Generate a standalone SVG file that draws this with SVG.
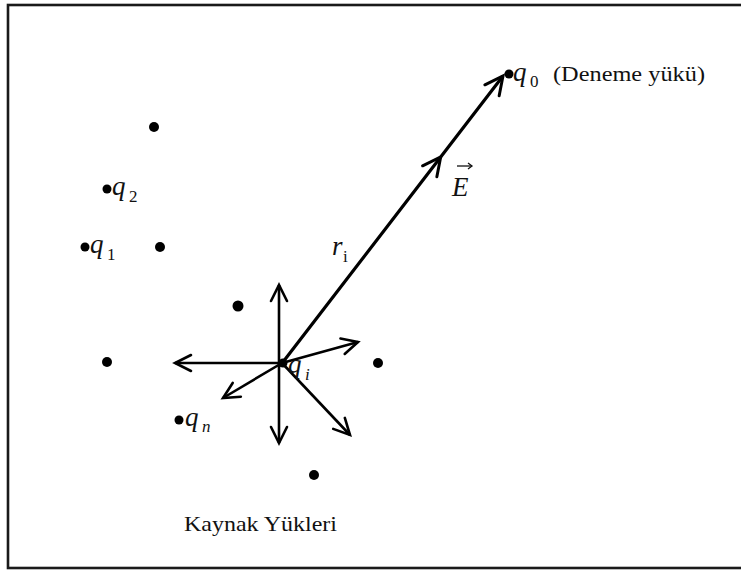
<svg xmlns="http://www.w3.org/2000/svg" width="741" height="574" viewBox="0 0 741 574">
<style>
.dot{fill:#000}
.arr{fill:none;stroke:#000;stroke-width:2.6;marker-end:url(#ch)}
.main{fill:none;stroke:#000;stroke-width:3.2;marker-mid:url(#chb);marker-end:url(#chb)}
.m{font-family:"Liberation Serif","Times New Roman",serif;font-style:italic;font-size:27px;fill:#111}
.sub{font-family:"Liberation Serif","Times New Roman",serif;font-size:17px;fill:#111}
.t{font-family:"Liberation Serif","Times New Roman",serif;font-size:22px;fill:#111}
</style>
<defs>
<marker id="ch" markerUnits="userSpaceOnUse" orient="auto" markerWidth="40" markerHeight="40" refX="0" refY="0" viewBox="-20 -20 40 40" overflow="visible">
<path d="M-16,-8 L0,0 L-16,8" fill="none" stroke="#000" stroke-width="2.6" stroke-linecap="round" stroke-linejoin="miter"/>
</marker>
<marker id="chb" markerUnits="userSpaceOnUse" orient="auto" markerWidth="40" markerHeight="40" refX="0" refY="0" viewBox="-20 -20 40 40" overflow="visible">
<path d="M-18,-9 L0,0 L-18,9" fill="none" stroke="#000" stroke-width="3" stroke-linecap="round" stroke-linejoin="miter"/>
</marker>
<marker id="sm" markerUnits="userSpaceOnUse" orient="auto" markerWidth="20" markerHeight="20" refX="0" refY="0" viewBox="-10 -10 20 20" overflow="visible">
<path d="M-4,-3 L0,0 L-4,3" fill="none" stroke="#111" stroke-width="1.3"/>
</marker>
</defs>
<rect x="8" y="5" width="760" height="563" fill="#fff" stroke="#1a1a1a" stroke-width="2.6"/>
<g id="connectors">
<polyline class="main" points="283,362 440.7,157 503,76"/>
<line class="arr" x1="279" y1="363" x2="279" y2="285"/>
<line class="arr" x1="279" y1="363" x2="279" y2="443"/>
<line class="arr" x1="282" y1="363" x2="175" y2="363"/>
<line class="arr" x1="282" y1="363" x2="358" y2="342"/>
<line class="arr" x1="282" y1="363" x2="223" y2="398"/>
<line class="arr" x1="282" y1="363" x2="350" y2="435"/>
</g>
<g id="q0">
<circle class="dot" cx="509" cy="74" r="4.5"/>
<text class="m" x="513" y="81">q</text>
<text class="sub" x="530" y="87">0</text>
<text class="t" x="553" y="81" textLength="152" lengthAdjust="spacingAndGlyphs">(Deneme yükü)</text>
</g>
<g id="E-label">
<text class="m" x="452" y="196">E</text>
<line x1="457" y1="166" x2="472" y2="166" stroke="#111" stroke-width="1.3" marker-end="url(#sm)"/>
</g>
<g id="ri-label">
<text class="m" x="332" y="255">r</text>
<text class="sub" x="343" y="262">i</text>
</g>
<g id="dot-top">
<circle class="dot" cx="154" cy="127" r="5"/>
</g>
<g id="q2">
<circle class="dot" cx="107" cy="189" r="4.5"/>
<text class="m" x="112" y="195">q</text>
<text class="sub" x="129" y="202">2</text>
</g>
<g id="q1">
<circle class="dot" cx="85" cy="247" r="4.5"/>
<text class="m" x="90" y="253">q</text>
<text class="sub" x="107" y="260">1</text>
</g>
<g id="dot-b">
<circle class="dot" cx="160" cy="247" r="5"/>
</g>
<g id="dot-c">
<circle class="dot" cx="238" cy="306" r="5.5"/>
</g>
<g id="dot-d">
<circle class="dot" cx="107" cy="362" r="5"/>
</g>
<g id="dot-e">
<circle class="dot" cx="378" cy="363" r="5"/>
</g>
<g id="qn">
<circle class="dot" cx="179" cy="420" r="4.5"/>
<text class="m" x="185" y="426">q</text>
<text class="sub" x="202" y="432" font-style="italic">n</text>
</g>
<g id="dot-f">
<circle class="dot" cx="314" cy="475" r="5"/>
</g>
<g id="qi">
<circle class="dot" cx="283" cy="363" r="4.5"/>
<text class="m" x="288" y="373">q</text>
<text class="sub" x="305" y="380" font-style="italic">i</text>
</g>
<g id="caption">
<text class="t" x="184" y="531" textLength="153" lengthAdjust="spacingAndGlyphs">Kaynak Yükleri</text>
</g>
</svg>
